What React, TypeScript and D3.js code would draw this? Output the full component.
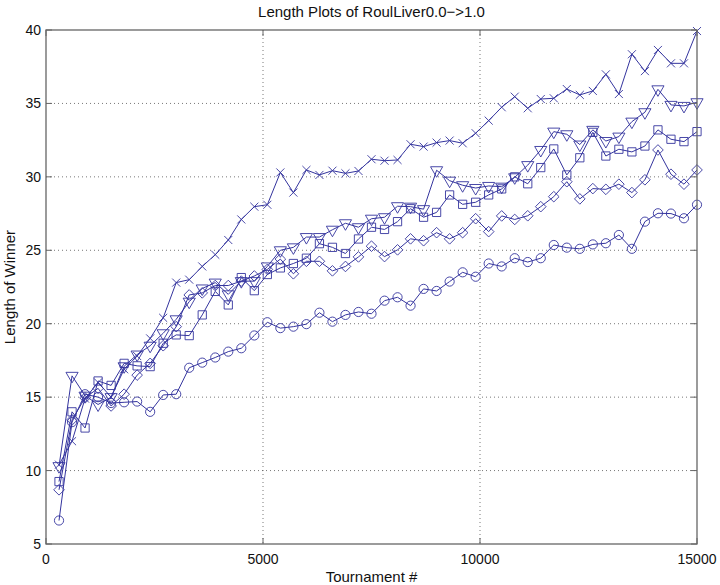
import React from "react";
import * as d3 from "d3";

const tournaments = [300,600,900,1200,1500,1800,2100,2400,2700,3000,3300,3600,3900,4200,4500,4800,5100,5400,5700,6000,6300,6600,6900,7200,7500,7800,8100,8400,8700,9000,9300,9600,9900,10200,10500,10800,11100,11400,11700,12000,12300,12600,12900,13200,13500,13800,14100,14400,14700,15000];

const crossSeries = [10.4,12.0,14.9,16.0,15.0,16.9,17.8,19.0,20.4,22.8,23.0,23.9,24.7,25.7,27.1,27.97,28.1,30.3,28.93,30.47,30.13,30.42,30.24,30.4,31.2,31.1,31.15,32.22,32.06,32.33,32.47,32.29,32.97,33.83,34.74,35.46,34.67,35.3,35.35,35.98,35.58,35.85,36.98,35.64,38.35,37.2,38.64,37.73,37.73,39.93];
const triangleSeries = [10.3,16.45,15.1,14.5,15.0,17.1,17.9,18.5,19.35,20.3,21.5,22.4,22.8,22.0,22.9,22.9,23.9,25.0,25.2,25.9,25.9,26.4,26.84,26.57,27.15,27.25,28.0,27.97,27.8,30.45,29.74,29.43,29.24,29.38,29.33,29.97,30.8,31.83,33.08,32.9,32.2,33.2,32.44,32.74,33.76,34.4,35.96,34.9,34.83,35.08];
const squareSeries = [9.25,14.0,12.9,16.1,15.8,17.3,17.13,17.08,18.67,19.24,19.19,20.6,22.2,21.28,23.14,22.25,23.35,23.8,24.1,24.46,25.45,25.2,24.78,25.77,26.57,26.42,26.95,27.83,27.25,27.58,28.77,28.13,28.27,28.77,29.18,30.0,29.53,30.63,31.9,30.13,31.3,33.03,31.42,31.88,31.7,32.1,33.2,32.56,32.4,33.08];
const diamondSeries = [8.69,13.45,14.95,15.6,14.4,15.2,16.5,17.3,18.5,19.8,21.96,22.1,22.6,22.6,22.9,23.25,23.7,24.4,23.4,24.25,24.25,23.6,23.9,24.55,25.28,24.57,25.03,25.78,25.65,26.2,25.78,26.2,27.15,26.27,27.34,27.1,27.35,27.97,28.65,29.67,28.5,29.2,29.15,29.5,28.93,29.8,31.83,30.18,29.5,30.47];
const circleSeries = [6.6,13.3,15.2,15.0,14.6,14.65,14.7,14.0,15.15,15.2,17.0,17.35,17.7,18.1,18.33,19.2,20.1,19.7,19.8,19.97,20.75,20.14,20.6,20.8,20.68,21.57,21.8,21.23,22.37,22.23,22.87,23.5,23.2,24.1,23.9,24.46,24.2,24.46,25.36,25.18,25.1,25.4,25.48,26.04,25.1,26.95,27.52,27.5,27.18,28.1];

const xTicks = [0, 5000, 10000, 15000];
const yTicks = [5, 10, 15, 20, 25, 30, 35, 40];

const titleText = "Length Plots of RoulLiver0.0\u2212>1.0";
const xLabel = "Tournament #";
const yLabel = "Length of Winner";

const W = 720, H = 585;
const left = 46, right = 697, top = 30, bottom = 544;
const color = "#34349e";
const font = "'Liberation Sans', Arial, Helvetica, sans-serif";

type SeriesDef = { name: string; values: number[]; marker: string };
const seriesList: SeriesDef[] = [
  { name: "cross", values: crossSeries, marker: "x" },
  { name: "triangle", values: triangleSeries, marker: "v" },
  { name: "square", values: squareSeries, marker: "s" },
  { name: "diamond", values: diamondSeries, marker: "d" },
  { name: "circle", values: circleSeries, marker: "o" },
];

function markerPath(m: string): string {
  switch (m) {
    case "o": return d3.symbol(d3.symbolCircle, Math.PI * 4.6 * 4.6)()!;
    case "s": return d3.symbol(d3.symbolSquare, 68)()!;
    case "d": return d3.symbol(d3.symbolDiamond2, 72)()!;
    case "v": return d3.symbol(d3.symbolTriangle, 64)()!;
    case "x": return d3.symbol(d3.symbolX, 44)()!;
    default: return d3.symbol(d3.symbolCircle, 40)()!;
  }
}

export default function App() {
  const x = d3.scaleLinear().domain([0, 15000]).range([left, right]);
  const y = d3.scaleLinear().domain([5, 40]).range([bottom, top]);
  const line = d3.line<number>().x((_, i) => x(tournaments[i])).y((d) => y(d));

  return (
    <svg width={W} height={H} style={{ position: "absolute", left: 0, top: 0, background: "#fff" }} fontFamily={font}>
      <rect x={0} y={0} width={W} height={H} fill="#fff" />
      {xTicks.slice(1, -1).map((t) => (
        <line key={"gx" + t} x1={x(t)} x2={x(t)} y1={top} y2={bottom} stroke="#555" strokeWidth={0.8} strokeDasharray="1,3" />
      ))}
      {yTicks.slice(1, -1).map((t) => (
        <line key={"gy" + t} x1={left} x2={right} y1={y(t)} y2={y(t)} stroke="#555" strokeWidth={0.8} strokeDasharray="1,3" />
      ))}
      {seriesList.map((s) => (
        <g key={s.name}>
          <path d={line(s.values)!} fill="none" stroke={color} strokeWidth={1} />
          {s.values.map((v, i) => (
            <path
              key={i}
              d={markerPath(s.marker)}
              transform={`translate(${x(tournaments[i])},${y(v)})${s.marker === "v" ? " rotate(180)" : ""}`}
              fill="none"
              stroke={color}
              strokeWidth={0.9}
            />
          ))}
        </g>
      ))}
      <rect x={left} y={top} width={right - left} height={bottom - top} fill="none" stroke="#666" strokeWidth={1.3} />
      {xTicks.map((t) => (
        <g key={"tx" + t}>
          <line x1={x(t)} x2={x(t)} y1={bottom} y2={bottom - 6} stroke="#666" />
          <line x1={x(t)} x2={x(t)} y1={top} y2={top + 6} stroke="#666" />
          <text x={x(t)} y={bottom + 20} textAnchor="middle" fontSize={14} fill="#111">{t}</text>
        </g>
      ))}
      {yTicks.map((t) => (
        <g key={"ty" + t}>
          <line x1={left} x2={left + 6} y1={y(t)} y2={y(t)} stroke="#666" />
          <line x1={right} x2={right - 6} y1={y(t)} y2={y(t)} stroke="#666" />
          <text x={left - 5} y={y(t) + 5} textAnchor="end" fontSize={14} fill="#111">{t}</text>
        </g>
      ))}
      <text x={(left + right) / 2} y={17} textAnchor="middle" fontSize={15} fill="#111">{titleText}</text>
      <text x={(left + right) / 2} y={582} textAnchor="middle" fontSize={15} fill="#111">{xLabel}</text>
      <text transform={`translate(15,${(top + bottom) / 2}) rotate(-90)`} textAnchor="middle" fontSize={15} fill="#111">{yLabel}</text>
    </svg>
  );
}
